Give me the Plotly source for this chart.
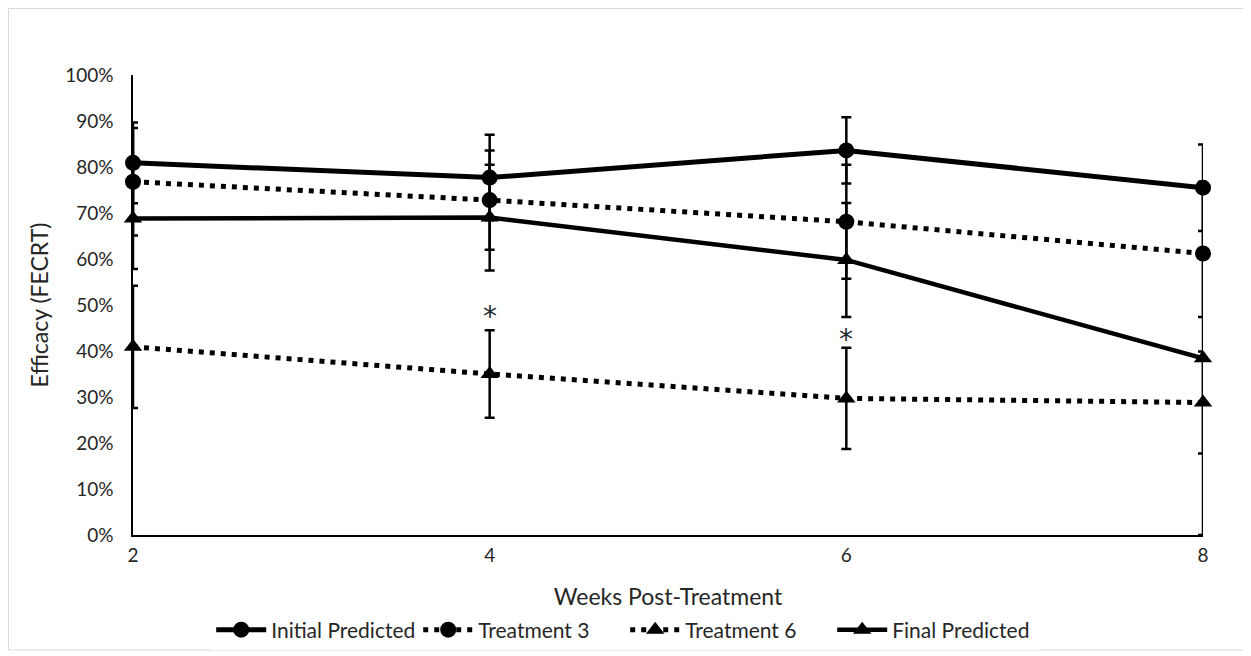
import plotly.graph_objects as go

weeks = [2, 4, 6, 8]
initial = [80.9, 77.7, 83.6, 75.5]
initial_err = [8.8, 9.3, 7.2, 9.4]
treat3 = [76.8, 72.8, 68.1, 61.2]
treat3_err = [11.7, 10.8, 12.4, 13.8]
treat6 = [40.9, 35.0, 29.7, 28.8]
treat6_err = [13.3, 9.5, 11.0, 11.1]
final = [68.8, 69.0, 59.8, 38.4]
final_err = [11.0, 11.5, 12.4, 38.4]
star_weeks = [4, 6]
star_pos = [47.4, 42.5]

FONT = "Lato"
series = [
    ("Initial Predicted", initial, initial_err, "solid", "circle", 5),
    ("Treatment 3", treat3, treat3_err, "5px,6px", "circle", 5),
    ("Treatment 6", treat6, treat6_err, "5px,6px", "triangle-up", 5),
    ("Final Predicted", final, final_err, "solid", "triangle-up", 4.5),
]

fig = go.Figure()
for name, vals, errs, dash, sym, w in series:
    fig.add_trace(go.Scatter(
        x=weeks, y=vals, name=name, mode="lines+markers",
        line=dict(color="black", width=w, dash=dash),
        marker=dict(symbol=sym, size=16, color="black"),
        error_y=dict(type="data", array=errs, visible=True, color="black",
                     thickness=2.5, width=5),
        cliponaxis=False,
    ))

for wk, yv in zip(star_weeks, star_pos):
    fig.add_annotation(x=wk, y=yv, text="*", showarrow=False,
                       font=dict(family="DejaVu Sans", size=28, color="#1f2a33"))

fig.add_shape(type="rect", xref="paper", yref="paper",
              x0=-0.1164, x1=1.0402, y0=-0.25, y1=1.1446,
              line=dict(color="#d9d9d9", width=1), layer="below")

fig.update_layout(
    width=1251, height=656,
    margin=dict(l=125, r=56, t=67, b=129, autoexpand=False),
    paper_bgcolor="white", plot_bgcolor="white",
    font=dict(family=FONT, size=19, color="#262626"),
    showlegend=True,
    legend=dict(orientation="h", x=0.460, xanchor="center", y=-0.2065,
                yanchor="middle", font=dict(size=21, color="#262626"),
                entrywidth=142, itemwidth=50),
    xaxis=dict(range=[2, 8], tickvals=weeks, showgrid=False, zeroline=False,
               showline=True, linecolor="black", linewidth=1.5,
               ticks="", ticklabelstandoff=2, automargin=False,
               title=dict(text="Weeks Post-Treatment", font=dict(size=23), standoff=24)),
    yaxis=dict(range=[0, 100], dtick=10, ticksuffix="%", showgrid=False,
               zeroline=False, showline=True, linecolor="black", linewidth=1.5,
               ticks="", ticklabelstandoff=14, automargin=False,
               title=dict(text="Efficacy (FECRT)", font=dict(size=23), standoff=10)),
)

fig.write_html("out.html")
